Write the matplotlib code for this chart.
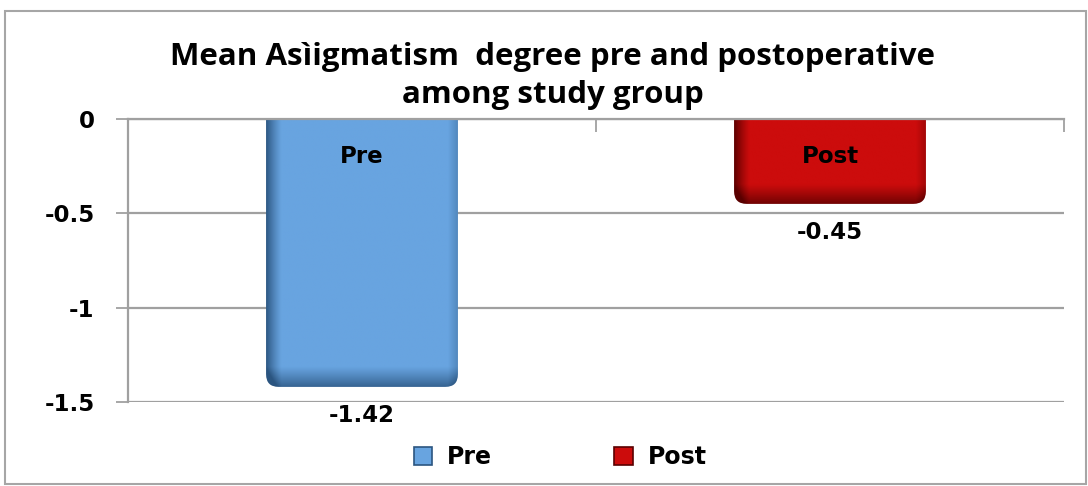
import numpy as np
import matplotlib
matplotlib.use('Agg')
import matplotlib.pyplot as plt
from matplotlib.patches import FancyBboxPatch, Rectangle, Patch

plt.rcParams['font.family'] = ['DejaVu Sans']

# data
groups = ['Pre', 'Post']
values = [-1.42, -0.45]
colors = ['#68A4E0', '#CC0C0C']
dark_colors = ['#2B5580', '#5A0000']
title = 'Mean Asìigmatism  degree pre and postoperative\namong study group'

fig = plt.figure(figsize=(10.88, 4.86), dpi=100)
ax = fig.add_axes([128/1088, 1-402/486, 936/1088, 283/486])

x = np.arange(len(groups))
bars = ax.bar(x, values, width=0.41, color=colors)

ax.set_xlim(-0.5, 1.5)
ax.set_ylim(-1.5, 0)

# rounded shaded bars replacing the flat ones
asp = (1/188.7) / (1/468.0)
for i, b in enumerate(bars):
    bx, bw, bh = b.get_x(), b.get_width(), b.get_height()
    b.set_visible(False)
    box = FancyBboxPatch((bx, bh), bw, -bh + 0.2,
                         boxstyle='round,pad=0,rounding_size=0.027',
                         mutation_aspect=asp, facecolor='none', edgecolor='none', zorder=2)
    ax.add_patch(box)
    nx, ny = 200, 200
    c = np.array(matplotlib.colors.to_rgb(colors[i]))
    d = np.array(matplotlib.colors.to_rgb(dark_colors[i]))
    u = np.linspace(0, 1, nx)
    v = np.linspace(0, 1, ny)  # 0 = bottom of bar
    hx = np.clip(1 - u / 0.08, 0, 1) ** 1.2 * 0.95 + np.clip((u - 0.95) / 0.05, 0, 1) * 0.35
    vy = np.clip(1 - v * (-bh) * 188.7 / 20, 0, 1) ** 1.1 * 0.8
    t = np.clip(hx[None, :] + vy[:, None], 0, 1)
    img = c[None, None, :] * (1 - t[..., None]) + d[None, None, :] * t[..., None]
    im = ax.imshow(img[::-1], extent=(bx, bx + bw, bh, 0), aspect='auto',
                   interpolation='bilinear', zorder=2)
    im.set_clip_path(box)

    ax.text(x[i], -0.2, groups[i], ha='center', va='center', fontsize=16.5,
            fontweight='bold', zorder=3)
    ax.annotate('%.2f' % values[i], (x[i], values[i]), xytext=(0, -12),
                textcoords='offset points', ha='center', va='top',
                fontsize=16.5, fontweight='bold')

ax.set_aspect('auto')
ax.set_xlim(-0.5, 1.5)
ax.set_ylim(-1.5, 0)

# axes styling
ax.set_yticks([0, -0.5, -1, -1.5])
ax.set_yticklabels(['0', '-0.5', '-1', '-1.5'])
ax.yaxis.grid(True, color='#A0A0A0', lw=1.6)
ax.set_axisbelow(True)
ax.tick_params(axis='y', direction='out', length=9, width=1.3, color='#A0A0A0',
               pad=15, labelsize=16.5)
for lab in ax.get_yticklabels():
    lab.set_fontweight('bold')
ax.xaxis.tick_top()
ax.set_xticks([-0.5, 0.5, 1.5])
ax.set_xticklabels([])
ax.tick_params(axis='x', direction='in', length=9, width=1.3, color='#A0A0A0')
for s in ['right', 'bottom']:
    ax.spines[s].set_visible(False)
ax.spines['left'].set_color('#A0A0A0')
ax.spines['left'].set_linewidth(1.6)
ax.spines['top'].set_color('#A0A0A0')
ax.spines['top'].set_linewidth(1.6)

# title
fig.text(553/1088, 1-76/486, title, ha='center', va='center', fontsize=22.5,
         fontweight='bold', linespacing=1.38,
         family=['Open Sans', 'DejaVu Sans'])

# legend
handles = [Patch(facecolor=colors[i], edgecolor=dark_colors[i], lw=1.2) for i in range(len(groups))]
leg = fig.legend(handles, groups, loc='center', bbox_to_anchor=(560/1088, 1-457/486),
                 ncol=2, frameon=False, handlelength=0.8, handleheight=0.8,
                 handletextpad=0.6, columnspacing=5.2, prop={'size': 17, 'weight': 'bold'})

# outer chart border
fig.patches.append(Rectangle((5/1088, 2/486), 1081/1088, 473/486, transform=fig.transFigure,
                             fill=False, edgecolor='#A6A6A6', lw=1.5))

fig.savefig('out.png', dpi=100)
